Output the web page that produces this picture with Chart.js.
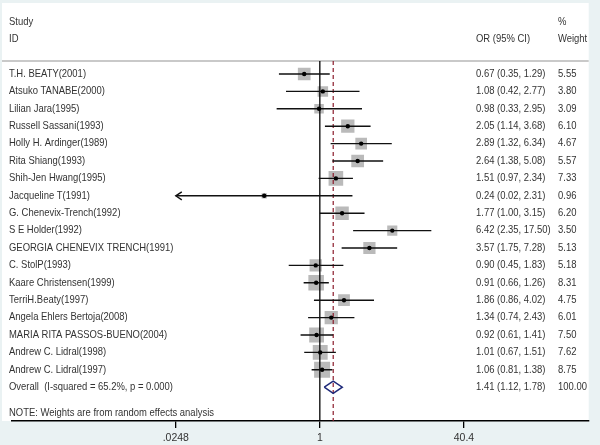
<!DOCTYPE html>
<html><head><meta charset="utf-8">
<script src="https://cdn.jsdelivr.net/npm/chart.js@4/dist/chart.umd.min.js"></script>
<style>html,body{margin:0;padding:0;background:#eaf2f3;overflow:hidden}#wrap{width:600px;height:445px;position:relative}</style>
</head><body><div id="wrap"><canvas id="c" width="600" height="445"></canvas></div>
<script>
const studies = ['T.H. BEATY(2001)','Atsuko TANABE(2000)','Lilian Jara(1995)','Russell Sassani(1993)','Holly H. Ardinger(1989)','Rita Shiang(1993)','Shih-Jen Hwang(1995)','Jacqueline T(1991)','G. Chenevix-Trench(1992)','S E Holder(1992)','GEORGIA CHENEVIX TRENCH(1991)','C. StolP(1993)','Kaare Christensen(1999)','TerriH.Beaty(1997)','Angela Ehlers Bertoja(2008)','MARIA RITA PASSOS-BUENO(2004)','Andrew C. Lidral(1998)','Andrew C. Lidral(1997)'];
const orValues = [0.67,1.08,0.98,2.05,2.89,2.64,1.51,0.24,1.77,6.42,3.57,0.90,0.91,1.86,1.34,0.92,1.01,1.06];
const ciLow    = [0.35,0.42,0.33,1.14,1.32,1.38,0.97,0.02,1.00,2.35,1.75,0.45,0.66,0.86,0.74,0.61,0.67,0.81];
const ciHigh   = [1.29,2.77,2.95,3.68,6.34,5.08,2.34,2.31,3.15,17.50,7.28,1.83,1.26,4.02,2.43,1.41,1.51,1.38];
const weights  = [5.55,3.80,3.09,6.10,4.67,5.57,7.33,0.96,6.20,3.50,5.13,5.18,8.31,4.75,6.01,7.50,7.62,8.75];
const overallLabel = 'Overall  (I-squared = 65.2%, p = 0.000)';
const overallOR = 1.41, overallLow = 1.12, overallHigh = 1.78, overallWeight = 100.00;
const noteText = 'NOTE: Weights are from random effects analysis';
const tickValues = [0.0248, 1, 40.4];
const tickLabels = ['.0248', '1', '40.4'];

// layout constants
const PX_PER_DEC = 92.75, ONE_PX = 319, AREA_W = 597;
const X_MIN = Math.pow(10, -ONE_PX / PX_PER_DEC);
const X_MAX = Math.pow(10, (AREA_W - ONE_PX) / PX_PER_DEC);
const ROW_H = 17.4, AREA_H = 360, FIRST_ROW_OFF = 13;
const Y_MIN = -FIRST_ROW_OFF / ROW_H;
const Y_MAX = Y_MIN + AREA_H / ROW_H;
const OVERALL_ROW = studies.length;
const NOTE_ROW = OVERALL_ROW + 1.5;
const TEXT_COLOR = '#333333';
const FONT = '10.5px "Liberation Sans", Arial, sans-serif';
const HSCALE = 0.9;

const clipMin = tickValues[0];
const ciData = [];
studies.forEach((s, i) => {
  ciData.push({x: Math.max(ciLow[i], clipMin), y: i}, {x: ciHigh[i], y: i}, {x: null, y: null});
});
const pts = orValues.map((v, i) => ({x: v, y: i}));
const diamond = [
  {x: overallLow, y: OVERALL_ROW}, {x: overallOR, y: OVERALL_ROW - 0.35},
  {x: overallHigh, y: OVERALL_ROW}, {x: overallOR, y: OVERALL_ROW + 0.35},
  {x: overallLow, y: OVERALL_ROW}
];

const fmt = v => v.toFixed(2);

const forestPlugin = {
  id: 'forest',
  beforeDraw(chart) {
    const c = chart.ctx, a = chart.chartArea;
    c.save();
    c.fillStyle = '#eaf2f3';
    c.fillRect(0, 0, chart.width, chart.height);
    c.fillStyle = '#ffffff';
    c.fillRect(2, 3, a.right - 2, a.bottom - 3);
    c.strokeStyle = '#c9c9c9';
    c.lineWidth = 2;
    c.beginPath(); c.moveTo(2, a.top); c.lineTo(a.right, a.top); c.stroke();
    c.restore();
  },
  afterDatasetsDraw(chart) {
    const c = chart.ctx, ys = chart.scales.y, xs = chart.scales.x;
    c.save();
    c.fillStyle = TEXT_COLOR;
    c.font = FONT;
    c.textBaseline = 'middle';
    c.textAlign = 'left';
    const put = (t, x, y) => { c.save(); c.scale(HSCALE, 1); c.fillText(t, x / HSCALE, y); c.restore(); };
    const STUDY_X = 9, OR_X = 476, WT_X = 558;
    put('Study', STUDY_X, ys.getPixelForValue(-3));
    put('ID', STUDY_X, ys.getPixelForValue(-2));
    put('OR (95% CI)', OR_X, ys.getPixelForValue(-2));
    put('%', WT_X, ys.getPixelForValue(-3));
    put('Weight', WT_X, ys.getPixelForValue(-2));
    studies.forEach((s, i) => {
      const y = ys.getPixelForValue(i);
      put(s, STUDY_X, y);
      put(`${fmt(orValues[i])} (${fmt(ciLow[i])}, ${fmt(ciHigh[i])})`, OR_X, y);
      put(fmt(weights[i]), WT_X, y);
    });
    const yo = ys.getPixelForValue(OVERALL_ROW);
    put(overallLabel, STUDY_X, yo);
    put(`${fmt(overallOR)} (${fmt(overallLow)}, ${fmt(overallHigh)})`, OR_X, yo);
    put(fmt(overallWeight), WT_X, yo);
    put(noteText, STUDY_X, ys.getPixelForValue(NOTE_ROW));
    // arrows for truncated CIs
    c.strokeStyle = '#111';
    c.lineWidth = 1.4;
    studies.forEach((s, i) => {
      if (ciLow[i] < clipMin) {
        const x = xs.getPixelForValue(clipMin), y = ys.getPixelForValue(i);
        c.beginPath(); c.moveTo(x + 6, y - 4); c.lineTo(x, y); c.lineTo(x + 6, y + 4); c.stroke();
      }
    });
    c.restore();
  }
};

Chart.defaults.font.family = '"Liberation Sans", Arial, sans-serif';
new Chart(document.getElementById('c'), {
  type: 'scatter',
  data: {
    datasets: [
      {type: 'scatter', data: pts, pointStyle: 'circle', pointRadius: 2.2, backgroundColor: '#000', borderWidth: 0},
      {type: 'line', data: ciData, borderColor: '#111', borderWidth: 1.4, pointRadius: 0, spanGaps: false},
      {type: 'line', data: diamond, borderColor: '#1f2a7a', borderWidth: 1.5, pointRadius: 0, fill: false},
      {type: 'line', data: [{x: 1, y: Y_MIN}, {x: 1, y: Y_MAX}], borderColor: '#000', borderWidth: 1.3, pointRadius: 0},
      {type: 'line', data: [{x: overallOR, y: Y_MIN}, {x: overallOR, y: Y_MAX}], borderColor: '#8b1a2a', borderWidth: 1.2, borderDash: [4, 3], pointRadius: 0},
      {type: 'scatter', data: pts, pointStyle: 'rect', backgroundColor: '#bababa', borderWidth: 0,
        pointRadius: ctx => 5.4 * Math.sqrt(weights[ctx.dataIndex]) / Math.SQRT2}
    ]
  },
  options: {
    responsive: false,
    animation: false,
    events: [],
    layout: {padding: {top: 61, right: 600 - AREA_W, left: 0, bottom: 0}},
    plugins: {legend: {display: false}, tooltip: {enabled: false}},
    scales: {
      x: {
        type: 'logarithmic', min: X_MIN, max: X_MAX, position: 'bottom',
        afterBuildTicks: s => { s.ticks = tickValues.map(v => ({value: v})); },
        afterFit: s => { s.height = 445 - 421; },
        ticks: {callback: v => tickLabels[tickValues.indexOf(v)] ?? '', color: TEXT_COLOR, font: {size: 10.5}, padding: 4, maxRotation: 0, autoSkip: false},
        grid: {drawOnChartArea: false, drawTicks: true, tickLength: 7, color: '#000', lineWidth: 1.3},
        border: {display: true, color: '#000', width: 1.5}
      },
      y: {type: 'linear', reverse: true, min: Y_MIN, max: Y_MAX, display: false}
    }
  },
  plugins: [forestPlugin]
});
</script></body></html>
